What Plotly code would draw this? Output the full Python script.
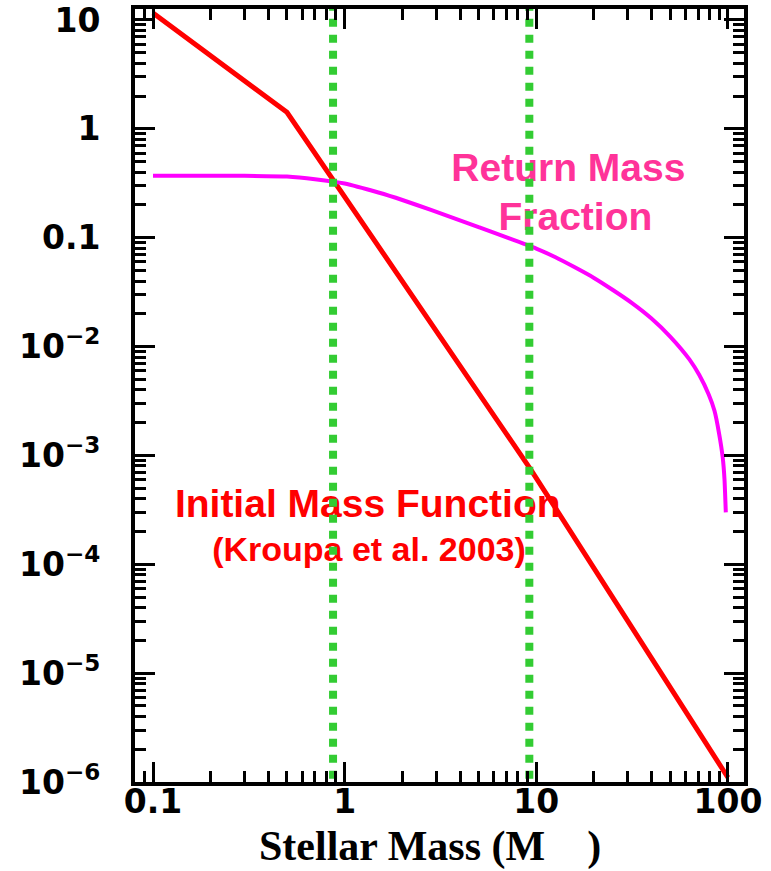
import plotly.graph_objects as go

# ---- data ----
imf_mass = [0.1, 0.5, 9.42, 100]
imf_value = [11.6, 1.42, 7.3e-4, 1.1e-6]

rmf_mass = [0.1, 0.2, 0.3, 0.5, 0.7, 1.0, 1.5, 2.0, 2.82, 5.0, 10.0, 12.6, 15.8,
            20.0, 25.1, 31.6, 39.8, 50.1, 63.1, 70.8, 79.4, 85.1, 90.0, 94.0, 96.0, 97.5]
rmf_value = [0.37, 0.37, 0.37, 0.365, 0.345, 0.315, 0.26, 0.222, 0.18, 0.125, 0.0794,
             0.0661, 0.0537, 0.0427, 0.0331, 0.0251, 0.0182, 0.0123, 0.00759, 0.0055,
             0.00363, 0.00257, 0.00158, 0.00095, 0.00060, 0.0003]

mass_marks = [0.87, 9.2]
mark_span = [1e-7, 100]

x_tickvals = [0.1, 1, 10, 100]
x_ticktext = ["0.1", "1", "10", "100"]
y_tickvals = [1e-6, 1e-5, 1e-4, 1e-3, 1e-2, 0.1, 1, 10]
y_ticktext = ["10<sup>−6</sup>", "10<sup>−5</sup>", "10<sup>−4</sup>", "10<sup>−3</sup>",
              "10<sup>−2</sup>", "0.1", "1", "10"]

x_minor = [0.08, 0.09] + [m * 10 ** e for e in (-1, 0, 1) for m in range(2, 10)]
y_minor = [m * 10.0 ** e for e in range(-6, 1) for m in range(2, 10)]

X_RANGE = [-1.094, 2.084]
Y_RANGE = [-6, 1.101]

fig = go.Figure()

fig.add_trace(go.Scatter(x=imf_mass, y=imf_value, mode="lines",
                         line=dict(color="#ff0000", width=5), hoverinfo="skip"))
fig.add_trace(go.Scatter(x=rmf_mass, y=rmf_value, mode="lines",
                         line=dict(color="#ff00ff", width=4, shape="spline", smoothing=0.5),
                         hoverinfo="skip"))

label_font = dict(family="Liberation Sans", size=39, weight="bold")
fig.add_trace(go.Scatter(x=[14.7, 16.0], y=[0.411, 0.146], mode="text",
                         text=["Return Mass", "Fraction"], textposition="middle center",
                         textfont=dict(label_font, color="#ff3399"), hoverinfo="skip"))
fig.add_trace(go.Scatter(x=[1.32], y=[3.36e-4], mode="text",
                         text=["Initial Mass Function"], textposition="middle center",
                         textfont=dict(label_font, color="#ff0000"), hoverinfo="skip"))
fig.add_trace(go.Scatter(x=[1.34], y=[1.27e-4], mode="text",
                         text=["(Kroupa et al. 2003)"], textposition="middle center",
                         textfont=dict(family="Liberation Sans", size=34, weight="bold",
                                       color="#ff0000"), hoverinfo="skip"))

for m in mass_marks:
    fig.add_trace(go.Scatter(x=[m, m], y=mark_span, mode="lines",
                             line=dict(color="#33cc33", width=8, dash="dot"),
                             hoverinfo="skip"))

# invisible trace to activate the overlay axes carrying the minor ticks
fig.add_trace(go.Scatter(x=[1], y=[1], mode="markers", marker=dict(opacity=0),
                         xaxis="x2", yaxis="y2", hoverinfo="skip"))

tick_font = dict(family="DejaVu Sans", size=33, color="black", weight="bold")

common = dict(type="log", showgrid=False, zeroline=False, automargin=False,
              showline=True, linecolor="black", linewidth=4, mirror="ticks",
              ticks="inside", tickwidth=3, tickcolor="black", tickmode="array")

fig.update_layout(
    xaxis=dict(common, range=X_RANGE, ticklen=20, tickvals=x_tickvals,
               ticktext=x_ticktext, tickfont=tick_font, ticklabelstandoff=-13),
    yaxis=dict(common, range=Y_RANGE, ticklen=20, tickvals=y_tickvals,
               ticktext=y_ticktext, tickfont=tick_font, ticklabelstandoff=24),
    xaxis2=dict(common, range=X_RANGE, ticklen=11, tickvals=x_minor,
                showticklabels=False, overlaying="x", anchor="y2"),
    yaxis2=dict(common, range=Y_RANGE, ticklen=11, tickvals=y_minor,
                showticklabels=False, overlaying="y", anchor="x2"),
)

fig.add_annotation(xref="paper", yref="paper", x=0.484, y=-0.083,
                   text="Stellar Mass (M\u00a0\u00a0\u00a0\u00a0)", showarrow=False,
                   xanchor="center", yanchor="middle",
                   font=dict(family="Liberation Serif", size=42, color="black", weight="bold"))

fig.update_layout(width=771, height=871, margin=dict(l=135, r=27, t=9, b=89),
                  plot_bgcolor="white", paper_bgcolor="white", showlegend=False)

fig.write_html("out.html")
